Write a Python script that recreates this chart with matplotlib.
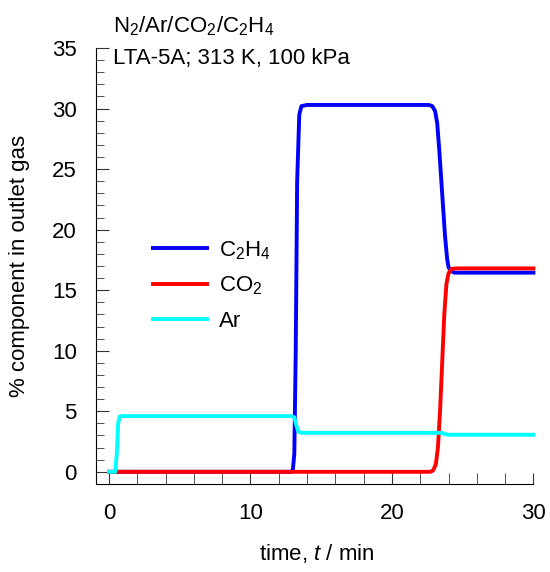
import matplotlib
matplotlib.use("Agg")
import matplotlib.pyplot as plt
from matplotlib.ticker import MultipleLocator

plt.rcParams['font.family'] = ['Liberation Sans', 'DejaVu Sans']
plt.rcParams['mathtext.fontset'] = 'custom'
plt.rcParams['mathtext.rm'] = 'Liberation Sans'
plt.rcParams['mathtext.it'] = 'Liberation Sans:italic'

# breakthrough curves
t_c2h4 = [0, 12.9, 13.0, 13.1, 13.2, 13.3, 13.45, 13.6, 14.0, 22.6, 22.85, 23.05, 23.2, 23.35, 23.55, 23.75, 23.9, 24.0, 24.15, 24.4, 30]
y_c2h4 = [0, 0, 0.2, 1.5, 10, 24, 29.5, 30.2, 30.3, 30.3, 30.2, 29.8, 28.8, 26.5, 23.0, 19.5, 17.6, 16.9, 16.6, 16.45, 16.45]

t_co2 = [0, 22.7, 22.9, 23.1, 23.25, 23.4, 23.55, 23.7, 23.85, 24.0, 24.2, 24.5, 30]
y_co2 = [0, 0, 0.1, 0.6, 2.0, 5.0, 9.0, 13.0, 15.5, 16.4, 16.75, 16.8, 16.8]

t_ar = [0, 0.45, 0.55, 0.65, 0.75, 0.9, 12.9, 13.1, 13.25, 13.4, 13.6, 23.4, 23.6, 23.8, 24.0, 30]
y_ar = [0, 0, 1.5, 4.0, 4.55, 4.6, 4.6, 4.5, 3.8, 3.3, 3.22, 3.22, 3.18, 3.1, 3.06, 3.06]

fs = 16

fig = plt.figure(figsize=(5.5, 5.72), dpi=100)
ax = fig.add_axes([0.175, 0.154, 0.80, 0.762])

ax.plot(t_c2h4, y_c2h4, color='#0000ff', lw=2.8, label='C$_2$H$_4$')
ax.plot(t_co2, y_co2, color='#ff0000', lw=2.8, label='CO$_2$')
ax.plot(t_ar, y_ar, color='#00ffff', lw=2.8, label='Ar')

ax.set_xlim(-0.9, 30.2)
ax.set_ylim(-1, 35)
ax.spines['top'].set_visible(False)
ax.spines['right'].set_visible(False)
ax.spines['left'].set_bounds(-1, 35)
ax.spines['bottom'].set_bounds(-0.9, 30)

ax.xaxis.set_major_locator(MultipleLocator(10))
ax.xaxis.set_minor_locator(MultipleLocator(2))
ax.yaxis.set_major_locator(MultipleLocator(5))
ax.yaxis.set_minor_locator(MultipleLocator(1))
ax.tick_params(which='both', direction='in', labelsize=fs, color='#333333')
ax.tick_params(axis='y', which='major', length=9, pad=14)
ax.tick_params(axis='y', which='minor', length=6)
ax.tick_params(axis='x', which='both', length=8, pad=14)

ax.set_xlabel('time, $t$ / min', fontsize=fs, labelpad=13)
ax.set_ylabel('% component in outlet gas', fontsize=fs, labelpad=16)

ax.text(0.25, 36.8, 'N$_2$/Ar/CO$_2$/C$_2$H$_4$', fontsize=fs, va='center')
ax.text(0.25, 34.1, 'LTA-5A; 313 K, 100 kPa', fontsize=fs, va='center')

ax.legend(loc='upper left', bbox_to_anchor=(0.083, 0.608), frameon=False,
          fontsize=fs, handlelength=2.45, handletextpad=0.55, labelspacing=0.6)

fig.savefig('out.png', dpi=100)
